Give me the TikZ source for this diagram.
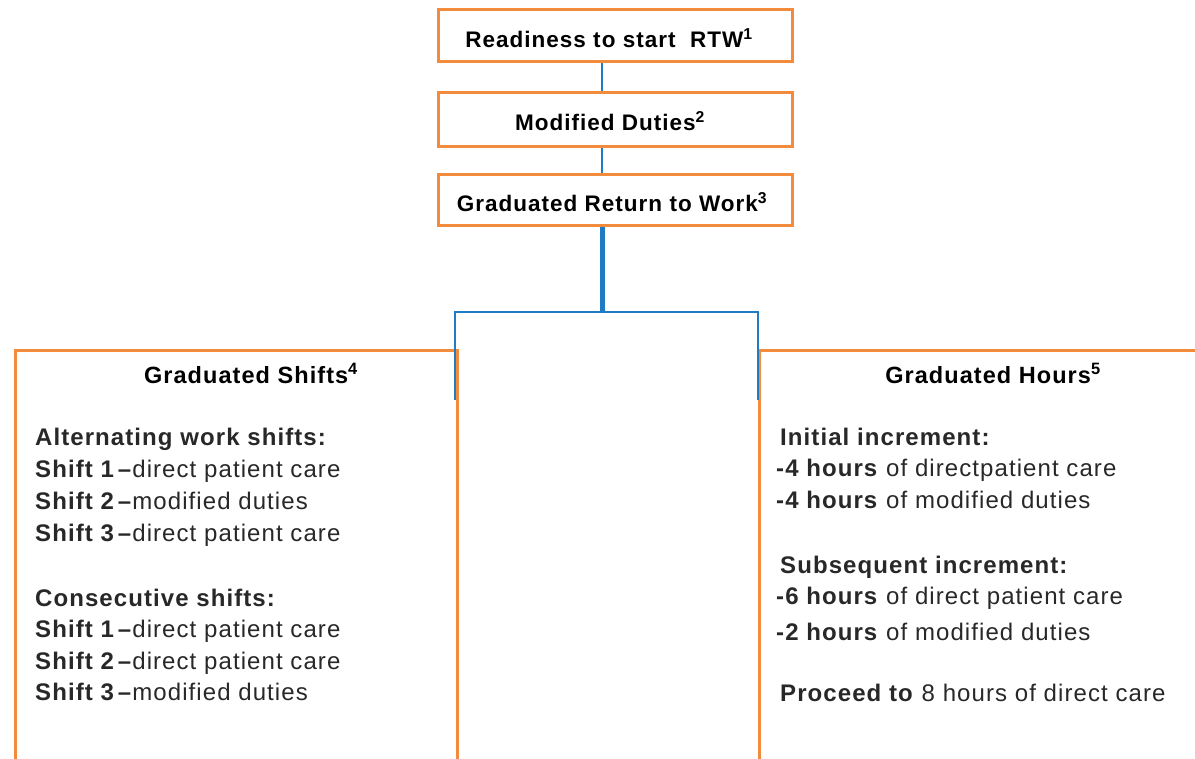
\documentclass[tikz,border=0pt]{standalone}
\usepackage{fontspec}
\setmainfont{Liberation Sans}[LetterSpace=4.5]
\definecolor{boxorange}{RGB}{242,140,60}
\definecolor{linkblue}{RGB}{30,123,196}
\definecolor{bodygray}{RGB}{40,40,40}
\begin{document}
\begin{tikzpicture}[x=1pt,y=-1pt,
  box/.style={draw=boxorange, line width=3pt, inner sep=0pt, fill=white},
  link/.style={draw=linkblue, line width=2pt},
  trunk/.style={draw=linkblue, line width=5pt},
  btxt/.style={inner sep=0pt, font=\bfseries\fontsize{22.5}{26}\selectfont},
  txt/.style={anchor=west, inner sep=0pt, text=bodygray, font=\fontsize{24}{28}\selectfont, text height=17pt, text depth=5pt},
  ttl/.style={inner sep=0pt, font=\bfseries\fontsize{23.5}{28}\selectfont, text height=17pt, text depth=5pt}]
\clip (0,0) rectangle (1195,759);
\fill[white] (0,0) rectangle (1195,759);
% top chain
\node[box, minimum width=354pt, minimum height=52pt] (r) at (615,36) {};
\node[btxt] (rt) at (609,38) {Readiness to start\ \ RTW\textsuperscript{1}};
\node[box, minimum width=354pt, minimum height=54pt] (m) at (615,120) {};
\node[btxt] (mt) at (610,121) {Modified Duties\textsuperscript{2}};
\node[box, minimum width=354pt, minimum height=51pt] (g) at (615,200) {};
\node[btxt] (gt) at (612,202) {Graduated Return to Work\textsuperscript{3}};
% lower boxes
\node[box, minimum width=442pt, minimum height=440pt, anchor=north west] (ls) at (14,349) {};
\node[box, minimum width=460pt, minimum height=440pt, anchor=north west] (rs) at (758,349) {};
% connectors
\coordinate (j) at (602,312);
\coordinate (jl) at (455,312);
\coordinate (jr) at (758,312);
\coordinate (el) at (455,400);
\coordinate (er) at (758,400);
\draw[link] ([xshift=-13pt]r.south) -- ([xshift=-13pt]m.north);
\draw[link] ([xshift=-13pt]m.south) -- ([xshift=-13pt]g.north);
\draw[trunk] ([xshift=-13pt]g.south) -- (j);
\draw[link] (el) -- (jl) -- (jr) -- (er);
% left text
\node[ttl] (lt) at (251,378) {Graduated Shifts\textsuperscript{4}};
\node[txt] (l1) at (35,440) {\textbf{Alternating work shifts:}};
\node[txt] (l2) at (35,471) {\textbf{Shift 1\,--}direct patient care};
\node[txt] (l3) at (35,503) {\textbf{Shift 2\,--}modified duties};
\node[txt] (l4) at (35,535) {\textbf{Shift 3\,--}direct patient care};
\node[txt] (l5) at (35,600) {\textbf{Consecutive shifts:}};
\node[txt] (l6) at (35,631) {\textbf{Shift 1\,--}direct patient care};
\node[txt] (l7) at (35,663) {\textbf{Shift 2\,--}direct patient care};
\node[txt] (l8) at (35,694) {\textbf{Shift 3\,--}modified duties};
% right text
\node[ttl] (rtl) at (993,378) {Graduated Hours\textsuperscript{5}};
\node[txt] (r1) at (780,440) {\textbf{Initial increment:}};
\node[txt] (r2) at (776,470) {\textbf{-4 hours} of directpatient care};
\node[txt] (r3) at (776,502) {\textbf{-4 hours} of modified duties};
\node[txt] (r4) at (780,567) {\textbf{Subsequent increment:}};
\node[txt] (r5) at (776,598) {\textbf{-6 hours} of direct patient care};
\node[txt] (r6) at (776,634) {\textbf{-2 hours} of modified duties};
\node[txt] (r7) at (780,695) {\textbf{Proceed to} 8 hours of direct care};
\end{tikzpicture}
\end{document}
